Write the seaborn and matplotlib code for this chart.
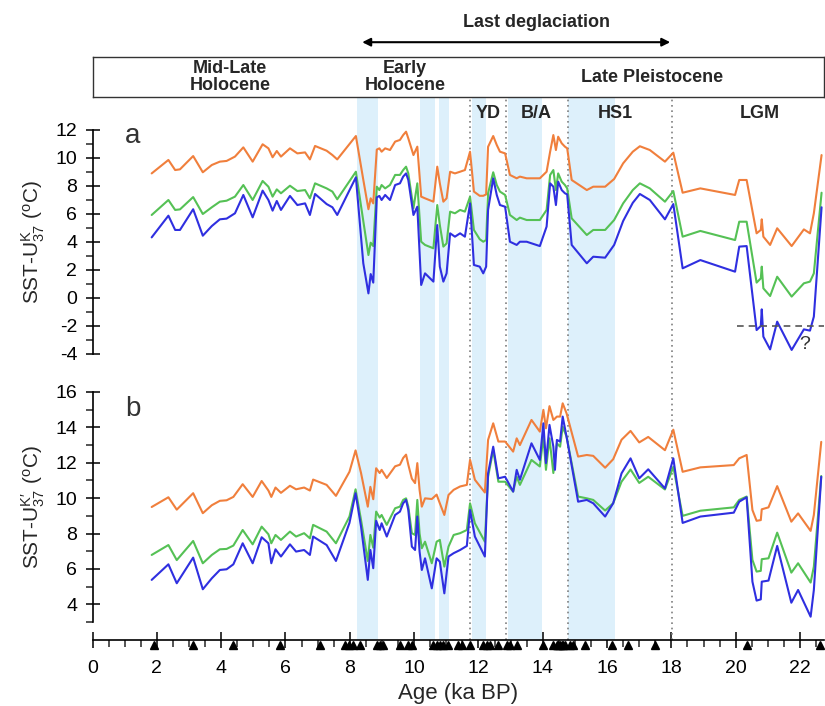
import numpy as np
import pandas as pd
import matplotlib
matplotlib.use("Agg")
import matplotlib.pyplot as plt
from matplotlib.ticker import MultipleLocator
import seaborn as sns

# ---- data ----
age_a = [1.84, 2.36, 2.57, 2.72, 3.13, 3.43, 3.71, 3.96, 4.17, 4.43, 4.69, 4.98, 5.29, 5.47, 5.60,
         5.73, 5.86, 6.14, 6.37, 6.61, 6.76, 6.92, 7.28, 7.46, 7.61, 8.19, 8.42, 8.58, 8.65, 8.73,
         8.84, 8.92, 8.99, 9.10, 9.25, 9.41, 9.56, 9.66, 9.75, 9.82, 9.98, 10.10, 10.22, 10.34, 10.60,
         10.72, 10.80, 10.91, 11.01, 11.12, 11.27, 11.43, 11.58, 11.74, 11.86, 12.04, 12.15, 12.24, 12.30,
         12.46, 12.57, 12.67, 12.83, 12.98, 13.19, 13.29, 13.50, 13.91, 14.12, 14.23, 14.33, 14.41, 14.48,
         14.59, 14.69, 14.76, 14.90, 15.37, 15.57, 15.94, 16.22, 16.50, 16.80, 17.02, 17.33, 17.80, 18.06,
         18.35, 18.90, 19.98, 20.11, 20.34, 20.65, 20.78, 20.81, 20.86, 21.07, 21.29, 21.74, 22.12, 22.31,
         22.43, 22.67]
orange_a = [8.9, 9.86, 9.14, 9.19, 10.14, 8.98, 9.5, 9.74, 9.79, 10.1, 10.76, 9.74, 10.98, 10.69, 10.05,
            10.5, 10.1, 10.69, 10.33, 10.4, 9.9, 10.86, 10.52, 10.21, 9.9, 11.57, 8.45, 6.34, 7.12, 6.76,
            10.6, 10.69, 10.45, 10.69, 10.57, 11.17, 11.29, 11.64, 11.88, 11.4, 10.21, 10.81, 7.24, 7.12, 6.88,
            9.38, 8.19, 6.88, 7.12, 9.02, 8.9, 9.02, 9.14, 10.45, 7.6, 7.3, 7.3, 7.4, 10.8,
            11.57, 10.93, 10.45, 10.33, 8.79, 8.55, 8.67, 8.55, 8.55, 9.02, 10.45, 11.64, 10.57, 11.52,
            11.05, 10.81, 10.69, 8.43, 7.71, 7.95, 7.95, 8.5, 9.62, 10.45, 10.84, 10.57, 9.74, 10.38,
            7.52, 7.83, 7.36, 8.43, 8.43, 4.62, 4.86, 5.62, 4.38, 3.79, 4.98, 3.71, 4.9, 4.62,
            6.05, 10.21]
green_a = [5.93, 7.0, 6.29, 6.33, 7.21, 6.0, 6.48, 6.88, 6.95, 7.24, 8.07, 7.0, 8.36, 7.95, 7.24,
           7.76, 7.48, 8.02, 7.64, 7.71, 7.12, 8.19, 7.83, 7.6, 7.05, 9.02, 5.5, 3.07, 3.95, 3.71,
           7.95, 7.71, 8.07, 7.83, 8.07, 8.79, 8.79, 9.14, 9.38, 8.9, 6.41, 8.19, 4.02, 3.79, 3.55,
           6.64, 5.21, 3.67, 3.9, 6.17, 6.05, 6.29, 6.17, 7.24, 4.86, 4.2, 4.02, 4.14, 7.48,
           8.98, 8.07, 7.6, 7.36, 5.93, 5.57, 5.74, 5.57, 5.57, 6.29, 8.79, 9.14, 7.71, 8.9,
           8.31, 8.07, 7.83, 5.69, 4.5, 4.86, 4.86, 5.57, 6.76, 7.71, 8.19, 7.83, 6.88, 7.64,
           4.38, 4.79, 4.14, 5.45, 5.45, 1.1, 1.4, 2.24, 0.69, 0.14, 1.52, 0.1, 1.05, 1.17,
           1.76, 7.52]
blue_a = [4.33, 5.88, 4.86, 4.86, 6.34, 4.45, 5.14, 5.62, 5.67, 6.05, 7.36, 5.76, 7.67, 7.0, 6.24,
          6.93, 6.29, 7.29, 6.64, 6.76, 5.93, 7.43, 6.71, 6.48, 5.93, 8.62, 2.48, 0.33, 1.71, 1.1,
          7.19, 7.29, 7.0, 7.36, 7.0, 8.07, 8.19, 8.67, 8.9, 8.43, 5.93, 6.52, 0.93, 1.76, 1.17,
          5.21, 2.24, 1.17, 1.76, 4.62, 4.38, 4.62, 4.38, 6.76, 2.36, 2.24, 1.76, 2.24, 6.29,
          8.55, 7.36, 6.64, 6.52, 4.02, 3.79, 4.02, 4.02, 3.71, 5.1, 8.19, 7.95, 6.64, 8.31,
          7.71, 7.48, 7.4, 3.79, 2.48, 2.95, 2.88, 3.79, 5.5, 6.8, 7.43, 7.0, 5.62, 6.71,
          2.12, 2.71, 1.88, 3.67, 3.71, -2.29, -2.0, -0.81, -2.76, -3.67, -1.69, -3.71, -2.24, -2.33,
          -1.33, 6.48]

age_b = [1.84, 2.36, 2.62, 3.13, 3.43, 3.71, 3.96, 4.17, 4.38, 4.67, 4.98, 5.26, 5.47, 5.56, 5.69,
         5.86, 6.14, 6.33, 6.58, 6.76, 6.86, 7.28, 7.57, 7.99, 8.18, 8.35, 8.56, 8.64, 8.73, 8.82,
         8.93, 8.99, 9.15, 9.41, 9.56, 9.66, 9.75, 9.82, 9.93, 10.03, 10.10, 10.17, 10.24, 10.34, 10.55,
         10.70, 10.80, 10.94, 11.07, 11.23, 11.43, 11.64, 11.74, 11.89, 12.20, 12.30, 12.46, 12.62, 12.83,
         13.08, 13.19, 13.29, 13.65, 13.91, 14.02, 14.10, 14.21, 14.33, 14.38, 14.44, 14.54, 14.62, 14.74,
         15.10, 15.37, 15.57, 15.94, 16.19, 16.45, 16.73, 17.00, 17.28, 17.80, 18.06, 18.35, 18.90, 19.94,
         20.11, 20.34, 20.52, 20.65, 20.78, 20.81, 21.02, 21.29, 21.73, 21.94, 22.33, 22.43, 22.66]
orange_b = [9.5, 10.05, 9.35, 10.28, 9.15, 9.6, 9.85, 9.88, 10.07, 10.79, 10.07, 10.97, 10.43, 10.07, 10.6,
            10.3, 10.7, 10.5, 10.6, 10.43, 11.05, 10.75, 10.13, 11.49, 12.7, 11.42, 9.52, 10.64, 9.94, 11.69,
            11.42, 11.6, 11.14, 11.8, 11.89, 12.27, 12.46, 11.89, 11.1, 10.85, 11.98, 10.47, 9.52, 9.99, 9.95,
            10.2, 9.71, 9.05, 10.18, 10.47, 10.66, 10.75, 12.17, 11.04, 10.32, 13.29, 14.23, 13.2, 13.2,
            12.63, 13.38, 13.0, 14.42, 13.76, 14.99, 13.95, 15.2, 14.42, 14.5, 14.61, 14.61, 15.36, 14.8,
            12.35, 12.44, 12.39, 11.72, 12.2, 13.3, 13.8, 13.15, 13.46, 12.71, 13.87, 11.49, 11.74, 11.87,
            12.25, 12.44, 9.33, 8.72, 8.76, 9.37, 9.48, 10.68, 8.67, 9.14, 8.15, 9.05, 13.18]
green_b = [6.79, 7.35, 6.5, 7.58, 6.32, 6.79, 7.11, 7.13, 7.32, 8.2, 7.39, 8.39, 7.96, 7.45, 7.92,
           7.64, 8.11, 7.83, 8.02, 7.73, 8.49, 8.11, 7.45, 8.96, 10.5, 8.77, 6.45, 7.92, 7.2, 9.24,
           8.9, 9.05, 8.49, 9.43, 9.52, 9.9, 9.99, 9.52, 8.02, 7.92, 9.9, 8.0, 7.17, 7.54, 6.32,
           7.54, 7.64, 6.13, 7.26, 7.92, 8.02, 8.2, 9.71, 8.58, 7.54, 11.21, 12.72, 10.93, 10.93,
           10.37, 11.21, 10.75, 12.16, 11.79, 13.48, 11.6, 13.38, 11.42, 12.2, 13.1, 12.91, 14.04, 13.48,
           10.09, 9.99, 9.9, 9.3, 9.71, 10.93, 11.62, 10.86, 11.21, 10.49, 11.77, 9.0, 9.29, 9.48,
           9.9, 10.09, 6.51, 5.85, 5.89, 6.55, 6.6, 8.05, 5.79, 6.32, 5.23, 6.13, 11.25]
blue_b = [5.38, 6.26, 5.19, 6.64, 4.85, 5.47, 5.94, 5.98, 6.26, 7.45, 6.32, 7.79, 7.45, 6.32, 7.11,
          6.7, 7.39, 6.98, 7.07, 6.79, 7.83, 7.35, 6.45, 8.6, 10.28, 8.39, 5.38, 7.07, 6.04, 8.72,
          8.2, 8.58, 7.83, 9.05, 9.24, 9.71, 9.9, 9.33, 7.26, 7.07, 8.96, 6.98, 5.94, 6.6, 4.9,
          6.6, 6.41, 4.62, 6.7, 6.89, 7.07, 7.3, 9.33, 7.83, 6.7, 11.4, 12.91, 11.12, 11.21,
          10.37, 11.6, 11.04, 13.1, 12.16, 14.23, 11.98, 14.14, 12.91, 11.6, 13.29, 13.2, 14.61, 13.48,
          9.8, 9.9, 9.71, 8.96, 9.71, 11.4, 12.25, 11.12, 11.63, 10.55, 12.25, 8.6, 8.96, 9.18,
          9.8, 10.05, 5.28, 4.21, 4.28, 5.28, 5.34, 7.3, 4.09, 4.81, 3.3, 4.81, 11.21]

# age control points (triangles on the age axis)
dates = [1.91, 3.14, 4.36, 5.83, 7.07, 7.85, 7.99, 8.11, 8.32, 8.84, 8.94, 9.04, 9.56, 9.82, 9.92,
         10.60, 10.70, 10.80, 10.91, 11.06, 11.37, 11.48, 11.74, 12.15, 12.26, 12.36, 12.62, 12.88,
         12.98, 13.19, 14.02, 14.33, 14.43, 14.48, 14.54, 14.59, 14.64, 14.70, 14.85, 14.95, 15.31,
         16.14, 16.66, 17.49, 20.34, 22.62]

# shaded cold events and period boundaries
shade_start = [8.22, 10.18, 10.77, 11.80, 12.92, 14.79]
shade_end = [8.88, 10.65, 11.08, 12.24, 13.98, 16.25]
boundaries = [11.74, 12.86, 14.79, 18.02]
periods = ["YD", "B/A", "HS1", "LGM"]
period_x = [12.3, 13.8, 16.25, 20.75]
epochs = ["Mid-Late\nHolocene", "Early\nHolocene", "Late Pleistocene"]
epoch_x = [4.28, 9.72, 17.4]

ORANGE, GREEN, BLUE = "#F07F3C", "#55C155", "#2F2FE0"
SHADE = "#DDF0FB"
XMAX = 22.75

sns.set_style("white")
plt.rcParams["font.family"] = ["Liberation Sans", "DejaVu Sans"]
plt.rcParams["mathtext.fontset"] = "custom"
plt.rcParams["mathtext.rm"] = "Liberation Sans"
plt.rcParams["mathtext.it"] = "Liberation Sans"
plt.rcParams["mathtext.default"] = "regular"
plt.rcParams["axes.unicode_minus"] = False

W, H = 825, 706
fig = plt.figure(figsize=(W / 100, H / 100), dpi=100)


def px_axes(left, top, right, bottom):
    return fig.add_axes([left / W, 1 - bottom / H, (right - left) / W, (bottom - top) / H])


right_px = 92.5 + XMAX * 32.16
bg = px_axes(92.5, 97, right_px, 640)
hdr = px_axes(92.5, 57, right_px, 97)
ax_a = px_axes(92.5, 130, right_px, 354)
ax_b = px_axes(92.5, 392, right_px, 622)

# background: shading, boundaries, age axis
bg.set_xlim(0, XMAX)
bg.set_ylim(0, 1)
for s, e in zip(shade_start, shade_end):
    bg.axvspan(s, e, color=SHADE, lw=0)
for b in boundaries:
    bg.axvline(b, color="#7f7f7f", ls=(0, (1, 2.2)), lw=1.2)
for sp in ["left", "right", "top"]:
    bg.spines[sp].set_visible(False)
bg.spines["bottom"].set_linewidth(1.2)
bg.spines["bottom"].set_color("black")
bg.set_yticks([])
bg.xaxis.set_major_locator(MultipleLocator(2))
bg.xaxis.set_minor_locator(MultipleLocator(0.5))
bg.tick_params(axis="x", which="major", direction="inout", length=11, width=1.1,
               labelsize=14, pad=9, bottom=True, colors="black")
bg.tick_params(axis="x", which="minor", direction="out", length=5, width=1.1, bottom=True)
bg.set_xlabel("Age (ka BP)", fontsize=16, labelpad=4)
bg.plot(dates, np.full(len(dates), -0.01), ls="none", marker="^", ms=5.5, color="black",
        transform=bg.get_xaxis_transform(), clip_on=False)
for lab, x in zip(periods, period_x):
    bg.text(x, 0.97, lab, ha="center", va="center", fontsize=13, fontweight="bold",
            transform=bg.get_xaxis_transform())

# header box
hdr.set_xlim(0, XMAX)
hdr.set_ylim(0, 1)
hdr.set_xticks([])
hdr.set_yticks([])
for sp in hdr.spines.values():
    sp.set_visible(True)
    sp.set_color("#333333")
    sp.set_linewidth(1.0)
hdr.set_facecolor("white")
for lab, x in zip(epochs, epoch_x):
    hdr.text(x, 0.5, lab, ha="center", va="center", fontsize=13, fontweight="bold",
             linespacing=0.95)
hdr.text(13.82, 1.87, "Last deglaciation", ha="center", va="center", fontsize=13,
         fontweight="bold", clip_on=False)
hdr.annotate("", xy=(8.3, 1.37), xytext=(18.05, 1.37), xycoords="data",
             arrowprops=dict(arrowstyle="<|-|>", color="black", lw=1.5, mutation_scale=12),
             annotation_clip=False)


def style_panel(ax, ylim, label, ylab):
    ax.set_xlim(0, XMAX)
    ax.set_ylim(*ylim)
    ax.patch.set_alpha(0)
    for sp in ["right", "top", "bottom"]:
        ax.spines[sp].set_visible(False)
    ax.spines["left"].set_linewidth(1.2)
    ax.spines["left"].set_color("black")
    ax.set_xticks([])
    ax.yaxis.set_major_locator(MultipleLocator(2))
    ax.yaxis.set_minor_locator(MultipleLocator(1))
    ax.tick_params(axis="y", which="major", direction="inout", length=10, width=1.1,
                   labelsize=14, left=True, pad=6, colors="black")
    ax.tick_params(axis="y", which="minor", direction="out", length=5, width=1.1, left=True)
    ax.set_xlabel("")
    ax.set_ylabel(ylab, fontsize=15)
    ax.yaxis.set_label_coords(-0.062, 0.5)
    ax.text(0.055, label[1], label[0], transform=ax.transAxes, fontsize=20,
            ha="center", va="center", color="#333333")


for ax, age, series in [(ax_a, age_a, (orange_a, green_a, blue_a)),
                        (ax_b, age_b, (orange_b, green_b, blue_b))]:
    for vals, col in zip(series, (ORANGE, GREEN, BLUE)):
        df = pd.DataFrame({"age": age, "sst": vals})
        sns.lineplot(data=df, x="age", y="sst", ax=ax, color=col, lw=1.5,
                     estimator=None, sort=False)

style_panel(ax_a, (-4, 12), ("a", 0.975), r"SST-U$^{\mathrm{K}}_{37}$ ($^{\mathrm{o}}$C)")
style_panel(ax_b, (3, 16), ("b", 0.925), r"SST-U$^{\mathrm{K}\prime}_{37}$ ($^{\mathrm{o}}$C)")

ax_a.hlines(-2, 20.05, XMAX, colors="#555555", linestyles=(0, (4, 3)), lw=1.2)
ax_a.text(22.15, -3.3, "?", fontsize=14, ha="center", va="center", color="#333333")

fig.savefig("out.png", dpi=100)
